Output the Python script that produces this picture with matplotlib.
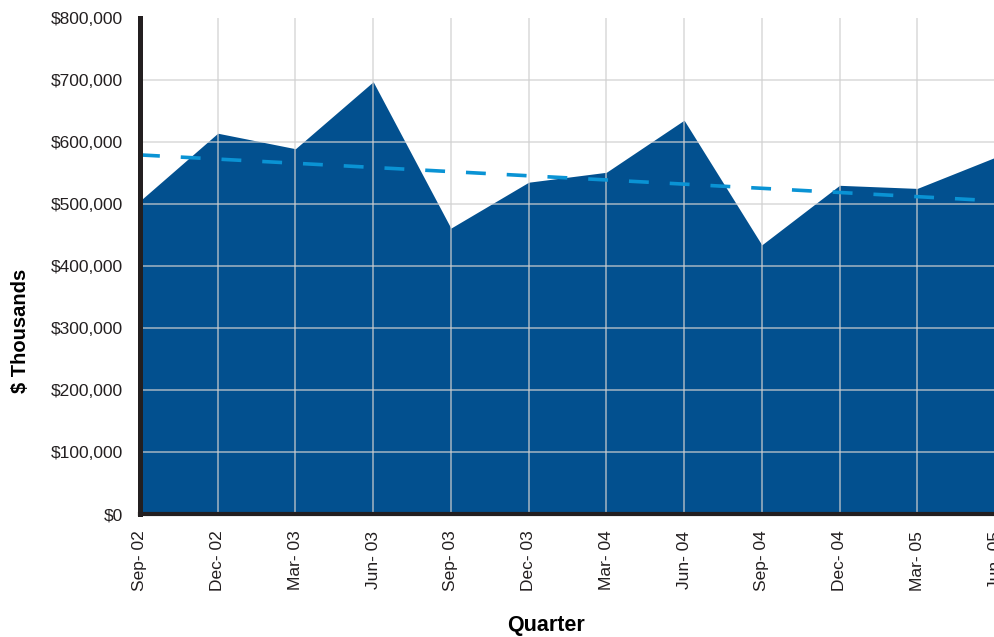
import numpy as np
import matplotlib
matplotlib.use('Agg')
import matplotlib.pyplot as plt
from matplotlib.ticker import FuncFormatter

plt.rcParams['font.family'] = ['Liberation Sans', 'DejaVu Sans']

# quarterly values ($)
quarters = ['Sep- 02', 'Dec- 02', 'Mar- 03', 'Jun- 03', 'Sep- 03', 'Dec- 03',
            'Mar- 04', 'Jun- 04', 'Sep- 04', 'Dec- 04', 'Mar- 05', 'Jun- 05']
values = [505000, 614000, 589000, 697000, 461000, 535000,
          551000, 635000, 434000, 530000, 525000, 575000]

# dashed trend line: value at first and last quarter
trend_ends = [579000, 505000]

y_ticks = [0, 100000, 200000, 300000, 400000, 500000, 600000, 700000, 800000]

FILL = '#02508F'
TREND = '#0A93D4'
SPINE = '#231F20'

fig = plt.figure(figsize=(9.95, 6.37), dpi=100)
ax = fig.add_axes([0.1407, 0.193, 0.8593, 0.779])

x = np.arange(len(quarters))
ax.fill_between(x, 0, values, color=FILL, linewidth=0, zorder=2)

# grid drawn on top of the area, semi-transparent grey
for yt in y_ticks[1:-1]:
    ax.axhline(yt, color='#D0D0D0', alpha=0.72, lw=1.2, zorder=3)
for xi in x[1:-1]:
    ax.axvline(xi, color='#D0D0D0', alpha=0.72, lw=1.2, zorder=3)

ax.plot([x[0], x[-1]], trend_ends, color=TREND, lw=2.6,
        dashes=(5.5, 5.8), zorder=4)

ax.set_xlim(x[0], x[-1])
ax.set_ylim(0, 800000)
ax.set_yticks(y_ticks)
ax.yaxis.set_major_formatter(FuncFormatter(lambda v, p: '${:,.0f}'.format(v)))
ax.set_xticks(x)
ax.set_xticklabels(quarters, rotation=90)

ax.tick_params(axis='y', length=0, pad=12, labelsize=12.5, labelcolor='#231F20')
ax.tick_params(axis='x', length=0, pad=12, labelsize=12.5, labelcolor='#231F20')

for s in ['top', 'right']:
    ax.spines[s].set_visible(False)
ax.spines['left'].set_linewidth(3.6)
ax.spines['left'].set_color(SPINE)
ax.spines['bottom'].set_linewidth(3.0)
ax.spines['bottom'].set_color(SPINE)
ax.spines['left'].set_zorder(5)
ax.spines['bottom'].set_zorder(5)

ax.set_ylabel('$ Thousands', fontsize=14.5, fontweight='heavy')
ax.yaxis.set_label_coords(-0.129, 0.369)
ax.set_xlabel('Quarter', fontsize=15.5, fontweight='heavy')
ax.xaxis.set_label_coords(0.475, -0.203)

plt.savefig('out.png', dpi=100)
plt.close()
